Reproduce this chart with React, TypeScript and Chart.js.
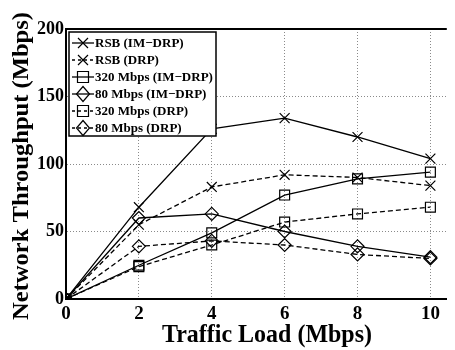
import React, { useEffect, useRef } from "react";
import { Chart, registerables } from "chart.js";

Chart.register(...registerables);

const loads = [0, 2, 4, 6, 8, 10];
const xTicks = [0, 2, 4, 6, 8, 10];
const yTicks = [0, 50, 100, 150, 200];
const rsbIm = [0, 68, 126, 134, 120, 104];
const rsbDrp = [0, 55, 83, 92, 90, 84];
const m320Im = [0, 25, 49, 77, 89, 94];
const m80Im = [0, 60, 63, 50, 39, 31];
const m320Drp = [0, 24, 40, 57, 63, 68];
const m80Drp = [0, 39, 43, 40, 33, 30];

const seriesNames = [
  "RSB (IM\u2212DRP)",
  "RSB (DRP)",
  "320 Mbps (IM\u2212DRP)",
  "80 Mbps (IM\u2212DRP)",
  "320 Mbps (DRP)",
  "80 Mbps (DRP)",
];
const seriesValues = [rsbIm, rsbDrp, m320Im, m80Im, m320Drp, m80Drp];
const seriesStyles = ["crossRot", "crossRot", "rect", "rectRot", "rect", "rectRot"];
const seriesDashed = [false, true, false, false, true, true];
const xTitle = "Traffic Load (Mbps)";
const yTitle = "Network Throughput (Mbps)";

const FONT = "'Liberation Serif', 'Times New Roman', serif";

function drawMarker(ctx: CanvasRenderingContext2D, style: string, x: number, y: number) {
  ctx.beginPath();
  if (style === "crossRot") {
    ctx.moveTo(x - 5, y - 5);
    ctx.lineTo(x + 5, y + 5);
    ctx.moveTo(x + 5, y - 5);
    ctx.lineTo(x - 5, y + 5);
  } else if (style === "rect") {
    ctx.rect(x - 5.5, y - 5.5, 11, 11);
  } else {
    ctx.moveTo(x, y - 7.5);
    ctx.lineTo(x + 6.5, y);
    ctx.lineTo(x, y + 7.5);
    ctx.lineTo(x - 6.5, y);
    ctx.closePath();
  }
  ctx.stroke();
}

export default function App() {
  const ref = useRef<HTMLCanvasElement>(null);
  useEffect(() => {
    const canvas = ref.current!;
    const datasets = seriesNames.map((name, i) => ({
      label: name,
      data: loads.map((x, j) => ({ x, y: seriesValues[i][j] })),
      borderColor: "#000",
      backgroundColor: "rgba(0,0,0,0)",
      borderWidth: 1.3,
      borderDash: seriesDashed[i] ? [5, 3] : [],
      pointStyle: seriesStyles[i] as any,
      pointRadius: seriesStyles[i] === "rectRot" ? 6.5 : 7,
      pointBorderColor: "#000",
      pointBackgroundColor: "rgba(0,0,0,0)",
      pointBorderWidth: 1.2,
      tension: 0,
    }));

    const framePlugin = {
      id: "frame",
      afterDraw(chart: any) {
        const { ctx, chartArea } = chart;
        ctx.save();
        ctx.strokeStyle = "#000";
        ctx.lineWidth = 2;
        ctx.beginPath();
        ctx.moveTo(chartArea.left, chartArea.top);
        ctx.lineTo(chartArea.right, chartArea.top);
        ctx.stroke();

        // axis titles
        ctx.fillStyle = "#000";
        ctx.textAlign = "center";
        ctx.textBaseline = "alphabetic";
        ctx.font = `bold 25px ${FONT}`;
        let w = ctx.measureText(xTitle).width;
        ctx.save();
        ctx.translate(267, 342);
        ctx.scale(210 / w, 1);
        ctx.fillText(xTitle, 0, 0);
        ctx.restore();

        ctx.font = `bold 25px ${FONT}`;
        w = ctx.measureText(yTitle).width;
        ctx.save();
        ctx.translate(28, 166);
        ctx.rotate(-Math.PI / 2);
        ctx.scale(308 / w, 0.92);
        ctx.fillText(yTitle, 0, 0);
        ctx.restore();

        // legend
        const bx = 69, by = 32, bw = 147, bh = 104;
        ctx.fillStyle = "#fff";
        ctx.fillRect(bx, by, bw, bh);
        ctx.lineWidth = 1.5;
        ctx.strokeStyle = "#000";
        ctx.strokeRect(bx, by, bw, bh);
        ctx.font = `bold 13px ${FONT}`;
        ctx.textAlign = "left";
        ctx.textBaseline = "middle";
        ctx.fillStyle = "#000";
        seriesNames.forEach((name, i) => {
          const y = by + 11 + i * 17;
          ctx.save();
          ctx.lineWidth = 1.3;
          ctx.setLineDash(seriesDashed[i] ? [3, 3] : []);
          ctx.beginPath();
          ctx.moveTo(72, y);
          ctx.lineTo(94, y);
          ctx.stroke();
          ctx.restore();
          ctx.save();
          ctx.lineWidth = 1.2;
          ctx.setLineDash([]);
          drawMarker(ctx, seriesStyles[i], 83, y);
          ctx.restore();
          ctx.fillStyle = "#000";
          ctx.fillText(name, 95, y + 1);
        });
        ctx.restore();
      },
    };

    const chart = new Chart(canvas, {
      type: "line",
      data: { datasets },
      options: {
        animation: false,
        responsive: false,
        maintainAspectRatio: false,
        layout: { padding: { top: 29, right: 0, left: 0, bottom: 0 } },
        plugins: { legend: { display: false }, tooltip: { enabled: false } },
        scales: {
          x: {
            type: "linear",
            min: 0,
            max: 10.45,
            afterBuildTicks: (s: any) => {
              s.ticks = xTicks.map((v) => ({ value: v }));
            },
            afterFit: (s: any) => {
              s.height = 51;
            },
            grid: { color: "#8a8a8a", lineWidth: 1, drawTicks: false },
            border: { color: "#000", width: 2, dash: [1, 2] } as any,
            ticks: {
              color: "#000",
              font: { family: FONT, size: 19, weight: "bold" },
              padding: 4,
              maxRotation: 0,
            },
          },
          y: {
            min: 0,
            max: 200,
            afterBuildTicks: (s: any) => {
              s.ticks = yTicks.map((v) => ({ value: v }));
            },
            afterFit: (s: any) => {
              s.width = 66;
            },
            grid: { color: "#8a8a8a", lineWidth: 1, drawTicks: false },
            border: { color: "#000", width: 2, dash: [1, 2] } as any,
            ticks: {
              color: "#000",
              font: { family: FONT, size: 18, weight: "bold" },
              padding: 2,
            },
          },
        },
      },
      plugins: [framePlugin],
    });
    return () => chart.destroy();
  }, []);

  return (
    <div style={{ position: "fixed", left: 0, top: 0, width: 455, height: 350, background: "#fff" }}>
      <canvas ref={ref} width={455} height={350} style={{ width: 455, height: 350 }} />
    </div>
  );
}
